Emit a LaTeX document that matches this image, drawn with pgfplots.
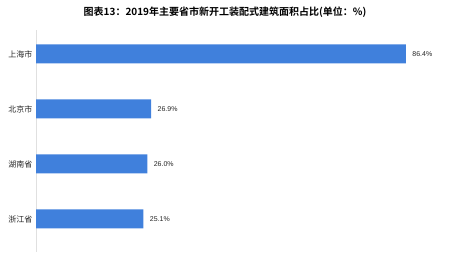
\documentclass[border=0pt]{standalone}
\usepackage{pgfplots}
\pgfplotsset{compat=1.18}
\usepackage{fontspec}
\setmainfont{Liberation Sans}
\newfontfamily\cjk{Noto Sans CJK SC}
\newfontfamily\cjkb{Noto Sans CJK SC Bold}
\definecolor{barblue}{RGB}{64,128,220}
\begin{document}
\begin{tikzpicture}[x=1pt,y=1pt]
\path[use as bounding box] (0,0) rectangle (450,252);
\node[font=\cjkb\fontsize{10}{12}\selectfont] at (225,240) {图表13：2019年主要省市新开工装配式建筑面积占比(单位：\%)};
\begin{axis}[
  at={(36pt,0pt)}, anchor=south west,
  scale only axis, width=411pt, height=222pt,
  xmin=0, xmax=96, ymin=-0.6, ymax=3.436,
  xbar, bar width=19pt,
  axis x line=none,
  axis y line*=left,
  y axis line style={draw=black!12, line width=1pt, -},
  ytick={0,1,2,3},
  yticklabels={浙江省,湖南省,北京市,上海市},
  yticklabel style={font=\cjk\fontsize{8}{9}\selectfont, text=black!85},
  major tick length=0pt,
  /pgf/number format/assume math mode=true,
  nodes near coords={\pgfmathprintnumber[fixed,fixed zerofill,precision=1,assume math mode=true]{\pgfplotspointmeta}\%},
  nodes near coords style={font=\fontsize{7}{8}\selectfont, text=black!85, anchor=west, xshift=3pt},
  point meta=x,
  clip=false,
]
\addplot[fill=barblue, draw=none] coordinates {(25.1,0) (26.0,1) (26.9,2) (86.4,3)};
\end{axis}
\end{tikzpicture}
\end{document}
